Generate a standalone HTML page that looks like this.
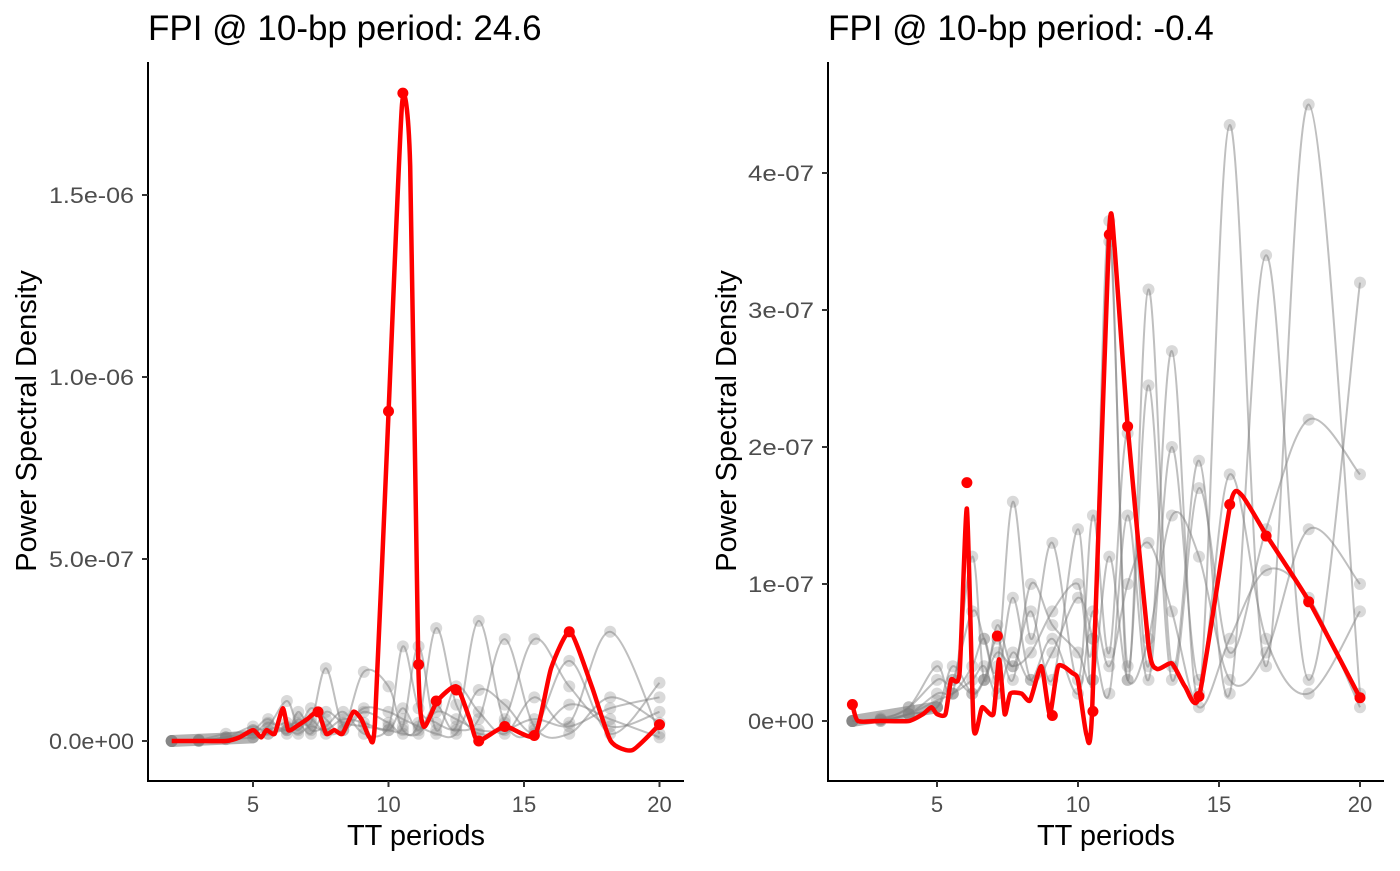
<!DOCTYPE html>
<html><head><meta charset="utf-8"><style>
body{margin:0;background:#fff;}
svg text{font-family:"Liberation Sans",sans-serif;}
</style></head><body>
<svg id="chart" width="1400" height="866" xmlns="http://www.w3.org/2000/svg"></svg>
<script>
const periods = [20,18.18,16.67,15.38,14.29,13.33,12.5,11.76,11.11,10.53,10,9.09,8.33,7.69,7.14,6.67,6.25,5.56,5,4,3,2];
// left panel gray series (units 1e-7)
const leftGray1 = [1.6,0.2,2.2,0.3,0.5,3.3,0.4,1.0,0.3,0.9,0.3,0.5,0.6,0.3,0.4,0.2,0.3,0.2,0.1,0.05,0,0];
const leftGray2 = [0.2,3.0,0.5,1.2,0.2,0.8,1.5,0.3,2.6,0.4,0.5,0.8,0.4,2.0,0.5,0.6,0.3,0.5,0.2,0.1,0.02,0];
const leftGray3 = [0.8,0.4,1.5,2.8,0.6,0.2,1.0,3.1,0.5,0.3,1.5,1.9,0.3,0.6,0.9,0.4,1.1,0.4,0.3,0.2,0.03,0];
const leftGray4 = [0.5,1.2,0.2,0.4,2.8,0.6,0.3,0.5,0.9,2.6,0.4,0.2,0.8,0.4,0.3,0.8,0.2,0.6,0.3,0.1,0.02,0];
const leftGray5 = [0.1,0.6,1.0,0.2,1.0,1.4,0.2,0.2,0.4,0.6,0.8,0.9,0.3,0.2,0.6,0.3,0.5,0.3,0.2,0.05,0,0];
const leftGray6 = [1.2,0.9,0.4,0.6,0.3,0.3,0.6,0.8,0.2,0.2,0.3,0.4,0.5,0.8,0.2,0.5,0.4,0.2,0.4,0.1,0.02,0];
// right panel gray series (units 1e-7)
const rightGray1 = [3.2,0.3,3.4,0.2,1.9,0.4,3.15,0.3,3.65,0.6,1.0,0.8,0.5,0.4,0.5,0.3,0.2,0.3,0.1,0.05,0.01,0];
const rightGray2 = [0.2,4.5,0.4,4.35,0.2,2.7,0.4,2.1,0.5,1.5,0.3,1.3,0.6,1.6,0.4,0.6,0.8,0.3,0.3,0.1,0.01,0];
const rightGray3 = [1.8,2.2,1.4,0.5,1.7,0.3,2.45,0.4,3.5,0.3,1.4,0.3,0.8,0.4,0.7,0.3,1.2,0.2,0.4,0.1,0.02,0];
const rightGray4 = [0.8,0.2,0.6,1.8,0.3,2.0,0.3,1.5,0.2,0.6,0.9,0.5,0.3,0.9,0.3,0.6,0.4,0.2,0.2,0.05,0.01,0];
const rightGray5 = [1.0,1.4,0.5,0.3,1.2,1.5,0.6,0.3,1.2,0.3,0.5,0.7,1.0,0.3,0.6,0.3,0.2,0.4,0.1,0.05,0,0];
const rightGray6 = [0.1,0.9,1.1,0.6,0.1,0.8,1.3,1.0,0.4,0.8,0.2,0.6,0.3,0.5,0.2,0.4,0.3,0.2,0.15,0.05,0,0];
// red smoothed line (period, value 1e-7)
const leftRedX = [2,3,4,4.5,5,5.3,5.5,5.8,6.1,6.3,6.6,7,7.4,7.7,8,8.3,8.7,9,9.3,9.5,10,10.5,10.8,11.1,11.3,11.8,12.5,13,13.3,14.3,15.4,16,16.7,17.5,18.2,19,20];
const leftRedY = [0,0,0,0.1,0.3,0.1,0.3,0.2,0.9,0.3,0.4,0.6,0.8,0.2,0.3,0.2,0.8,0.6,0.1,0.5,9.0,17.5,15.8,2.1,0.4,1.1,1.5,0.6,0,0.4,0.15,2.0,3.0,1.5,0,-0.25,0.45];
const leftPtX = [7.4,10,10.53,11.11,11.76,12.5,13.33,14.29,15.38,16.67,20];
const leftPtY = [0.8,9.06,17.8,2.1,1.1,1.4,0,0.4,0.15,3.0,0.45];
const rightRedX = [2,2.2,3,4,4.5,4.8,5,5.3,5.5,5.8,6.06,6.3,6.6,7,7.2,7.4,7.6,8,8.3,8.7,9,9.3,9.8,10,10.3,10.5,11.1,11.3,11.76,12.5,12.8,13.33,13.8,14.3,15.4,15.8,16.7,18.2,20];
const rightRedY = [0.12,0,0,0,0.05,0.1,0.05,0.05,0.3,0.35,1.55,-0.05,0.1,0.05,0.45,0.05,0.2,0.2,0.15,0.4,0.05,0.4,0.35,0.3,-0.1,0.07,3.55,3.45,2.15,0.55,0.38,0.42,0.25,0.18,1.58,1.65,1.35,0.87,0.17];
const rightPtX = [2,6.06,7.14,9.09,10.53,11.11,11.76,14.29,15.38,16.67,18.18,20];
const rightPtY = [0.12,1.74,0.62,0.04,0.07,3.55,2.15,0.18,1.58,1.35,0.87,0.17];
const leftTicksY = [0,5,10,15];
const leftTickLabels = ["0.0e+00","5.0e-07","1.0e-06","1.5e-06"];
const rightTicksY = [0,1,2,3,4];
const rightTickLabels = ["0e+00","1e-07","2e-07","3e-07","4e-07"];
const xTicks = [5,10,15,20];

const NS="http://www.w3.org/2000/svg";
const svg=document.getElementById('chart');
function mk(tag,attrs,parent){const e=document.createElementNS(NS,tag);for(const k in attrs)e.setAttribute(k,attrs[k]);(parent||svg).appendChild(e);return e;}
function smooth(pts,t){let d=`M${pts[0][0]},${pts[0][1]}`;for(let i=0;i<pts.length-1;i++){const p0=pts[Math.max(0,i-1)],p1=pts[i],p2=pts[i+1],p3=pts[Math.min(pts.length-1,i+2)];const c1x=p1[0]+(p2[0]-p0[0])/t,c1y=p1[1]+(p2[1]-p0[1])/t,c2x=p2[0]-(p3[0]-p1[0])/t,c2y=p2[1]-(p3[1]-p1[1])/t;d+=` C${c1x},${c1y} ${c2x},${c2y} ${p2[0]},${p2[1]}`;}return d;}

function panel(cfg){
  const g=mk('g',{});
  
  
  const sx=v=>cfg.x0+v*cfg.xs, sy=v=>cfg.y0-v*cfg.ys;
  cfg.gray.forEach((s,i)=>{
    const pts=periods.map((p,j)=>[sx(p),sy(s[j])]).reverse();
    const pth=mk('path',{d:smooth(pts,6),fill:'none',stroke:'#808080','stroke-opacity':0.5,'stroke-width':2},g);
    
    
    periods.forEach((p,j)=>{const c=mk('circle',{cx:sx(p),cy:sy(s[j]),r:6,fill:'#808080','fill-opacity':0.3},g);
      
      });
  });
  const base=mk('path',{d:`M${sx(2)},${sy(0)} L${sx(5)},${sy(0.1)}`,stroke:'#808080','stroke-opacity':0.6,'stroke-width':12,'stroke-linecap':'round'},g);
  
  
  const rp=cfg.rx.map((x,i)=>[sx(x),sy(cfg.ry[i])]);
  const red=mk('path',{d:smooth(rp,10),fill:'none',stroke:'#ff0000','stroke-width':4.5,'stroke-linejoin':'round'},g);
  
  
  cfg.px.forEach((x,i)=>{const c=mk('circle',{cx:sx(x),cy:sy(cfg.py[i]),r:5.5,fill:'#ff0000'},g);
    
    });
  const ax=mk('path',{d:`M${cfg.ax},62 V781 H${cfg.axEnd}`,fill:'none',stroke:'#000','stroke-width':2},g);
  
  
  cfg.ticksY.forEach((t,i)=>{const y=sy(t);mk('line',{x1:cfg.ax-6,x2:cfg.ax,y1:y,y2:y,stroke:'#333','stroke-width':2},g);
    const tx=mk('text',{x:cfg.ax-14,y:y+8,'text-anchor':'end','font-size':22,fill:'#4d4d4d',textLength:cfg.tl,lengthAdjust:'spacingAndGlyphs'},g);tx.textContent=cfg.labels[i];
    
    });
  xTicks.forEach(t=>{const x=sx(t);mk('line',{x1:x,x2:x,y1:781,y2:787,stroke:'#333','stroke-width':2},g);
    const tx=mk('text',{x:x,y:812,'text-anchor':'middle','font-size':22,fill:'#4d4d4d'},g);tx.textContent=t;
    
    });
  const xt=mk('text',{x:(cfg.ax+cfg.axEnd)/2,y:845,'text-anchor':'middle','font-size':29,fill:'#000'},g);xt.textContent='TT periods';
  
  
  const yt=mk('text',{x:0,y:0,'text-anchor':'middle','font-size':29,fill:'#000',transform:`translate(${cfg.ytx},421) rotate(-90)`},g);yt.textContent='Power Spectral Density';
  
  
  const ti=mk('text',{x:cfg.ax,y:40,'font-size':35,fill:'#000'},g);ti.textContent=cfg.title;
  
  
}
panel({name:'left-panel',x0:117.5,xs:27.1,y0:741,ys:36.4,ax:148,axEnd:684,tl:85,ytx:36,gray:[leftGray1,leftGray2,leftGray3,leftGray4,leftGray5,leftGray6],
  rx:leftRedX,ry:leftRedY,px:leftPtX,py:leftPtY,ticksY:leftTicksY,labels:leftTickLabels,title:'FPI @ 10-bp period: 24.6'});
panel({name:'right-panel',x0:796,xs:28.2,y0:721,ys:137,ax:828,axEnd:1384,tl:66,ytx:736,gray:[rightGray1,rightGray2,rightGray3,rightGray4,rightGray5,rightGray6],
  rx:rightRedX,ry:rightRedY,px:rightPtX,py:rightPtY,ticksY:rightTicksY,labels:rightTickLabels,title:'FPI @ 10-bp period: -0.4'});
</script>
</body></html>
